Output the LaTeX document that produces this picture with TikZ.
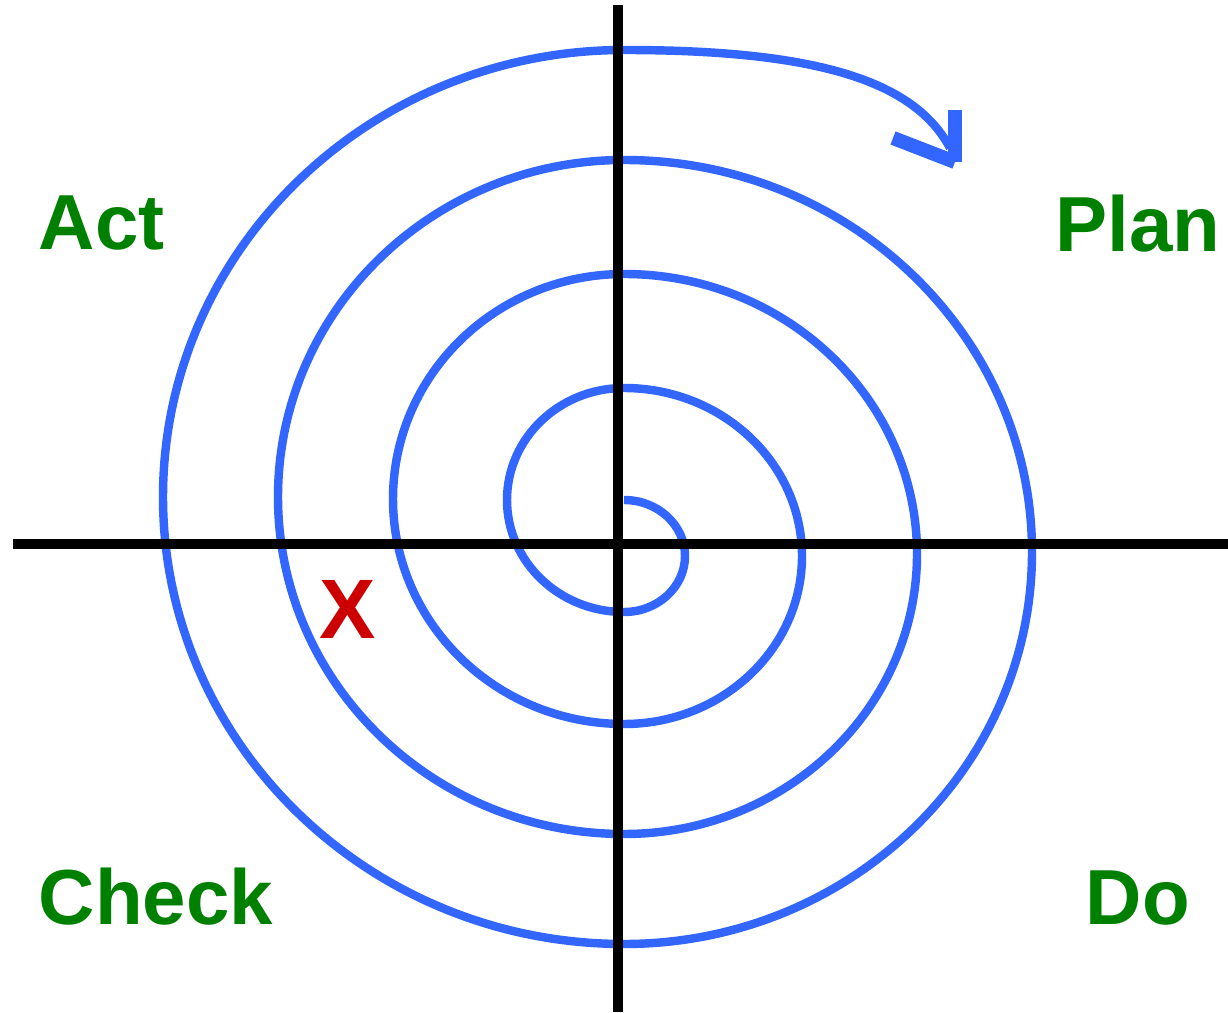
\documentclass[tikz,border=0pt]{standalone}
\usepackage{fontspec}
\setmainfont{Liberation Sans}
\definecolor{spiralblue}{HTML}{3366FF}
\definecolor{pdcagreen}{HTML}{008000}
\definecolor{markred}{HTML}{CC0000}
\tikzset{
    phase/.style={anchor=base west, inner sep=0pt, text=pdcagreen, font=\fontsize{22.2}{27}\selectfont\bfseries},
    spiral/.style={draw=spiralblue, line width=2.4pt},
    axis/.style={draw=black, line width=2.6pt}
}
\begin{document}
\begin{tikzpicture}[x=0.01cm, y=0.01cm]
        \useasboundingbox (0, 0) rectangle (1228, 1012);

        \coordinate (left) at (13, 468);
        \coordinate (right) at (1228, 468);
        \coordinate (top) at (618, 1007);
        \coordinate (bottom) at (618, 0);
        \coordinate (start) at (624, 512);
        \coordinate (tip) at (955, 850);

        \path[spiral] (start)
            arc[start angle=90, end angle=-90, x radius=61, y radius=56]
            arc[start angle=-90, end angle=-270, x radius=117, y radius=112]
            arc[start angle=90, end angle=-90, x radius=178, y radius=168]
            arc[start angle=-90, end angle=-270, x radius=231, y radius=225]
            arc[start angle=90, end angle=-90, x radius=293, y radius=280]
            arc[start angle=-90, end angle=-270, x radius=346, y radius=337]
            arc[start angle=90, end angle=-90, x radius=408, y radius=392]
            arc[start angle=-90, end angle=-270, x radius=461, y radius=447]
            .. controls (820, 962) and (915, 930) .. (950, 864);

        \draw[spiralblue, line width=4pt] (tip) -- (955, 902);
        \draw[spiralblue, line width=4pt] (tip) -- (893, 874);

        \draw[axis] (left) -- (right);
        \draw[axis] (top) -- (bottom);

        \node (act) at (38, 762) [phase] {Act};
        \node (plan) at (1055, 760) [phase] {Plan};
        \node (check) at (38, 88) [phase] {Check};
        \node (do) at (1085, 88) [phase] {Do};
        \node (x) at (348, 403) [inner sep=0pt, text=markred, font=\fontsize{24}{28}\selectfont\bfseries] {X};

\end{tikzpicture}
\end{document}
